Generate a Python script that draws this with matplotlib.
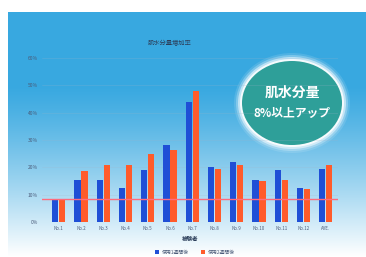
import numpy as np
import matplotlib
matplotlib.use("Agg")
import matplotlib.pyplot as plt
from matplotlib.patches import Ellipse

plt.rcParams['font.family'] = ['Noto Sans CJK JP', 'DejaVu Sans']

# data (percent increase of skin moisture)
subjects = ['No.1', 'No.2', 'No.3', 'No.4', 'No.5', 'No.6', 'No.7',
            'No.8', 'No.9', 'No.10', 'No.11', 'No.12', 'AVE.']
week1 = [8, 15.5, 15.5, 12.5, 19, 28, 44, 20, 22, 15.5, 19, 12.5, 19.5]
week2 = [8, 18.5, 21, 21, 25, 26.5, 48, 19.5, 21, 15, 15.5, 12, 21]
target = 8.3
yticks = [0, 10, 20, 30, 40, 50, 60]
series_names = ['使用1週間後', '使用2週間後']

W, H = 366, 257
fig = plt.figure(figsize=(W / 100, H / 100), dpi=100)

# background: sky blue fading to white
bg = fig.add_axes([0, 0, 1, 1])
bg.set_xlim(0, W)
bg.set_ylim(H, 0)
bg.axis('off')
top = np.array([0.22, 0.66, 0.88])
bottom = np.array([1.0, 1.0, 1.0])
t = np.linspace(0, 1, 200)
fade = np.clip((t - 0.3) / 0.7, 0, 1) ** 1.2
grad = top[None, :] * (1 - fade[:, None]) + bottom[None, :] * fade[:, None]
img = np.repeat(grad[:, None, :], 2, axis=1)
bg.imshow(img, extent=[8, W, H, 12], aspect='auto', zorder=0)

# circle badge with glow
cx, cy = 292, 103
for d, a in [(16, 0.12), (12, 0.25), (8, 0.5), (4, 0.85)]:
    bg.add_patch(Ellipse((cx, cy), 100 + d, 84 + d, color='white', alpha=a, lw=0, zorder=1))
bg.add_patch(Ellipse((cx, cy), 100, 84, color='#2e9f99', lw=0, zorder=2))
bg.text(cx, 93, '肌水分量', color='white', fontsize=10, fontweight='bold',
        ha='center', va='center', zorder=3)
bg.text(cx, 113, '8%以上アップ', color='white', fontsize=8.5, fontweight='bold',
        ha='center', va='center', zorder=3)

# bar chart
ax = fig.add_axes([42 / W, 1 - 222 / H, 296 / W, 164 / H])
ax.patch.set_alpha(0)
x = np.arange(len(subjects))
w = 0.28
ax.bar(x - w / 2 - 0.02, week1, w, color='#1f4fd6', label=series_names[0], zorder=3)
ax.bar(x + w / 2 + 0.02, week2, w, color='#ff5b2b', label=series_names[1], zorder=3)
ax.axhline(target, color='#ff6b7d', lw=1.0, zorder=4)
ax.set_xlim(-0.75, 12.55)
ax.set_ylim(0, 60)
ax.set_yticks(yticks)
ax.set_yticklabels([f'{v}%' for v in yticks], fontsize=3.5, color='#4a5a78')
ax.set_xticks(x)
ax.set_xticklabels(subjects, fontsize=3.2, color='#4a5a78')
ax.tick_params(length=0, pad=3)
ax.grid(axis='y', color='#9fb3c8', lw=0.4, alpha=0.35, zorder=0)
for s in ax.spines.values():
    s.set_visible(False)

fig.text(170 / W, 1 - 43 / H, '肌水分量増加率', fontsize=4.5, color='#2c3e5a',
         ha='center', va='center')
fig.text(190 / W, 1 - 239 / H, '被験者', fontsize=4, color='#2c3e5a',
         ha='center', va='center', fontweight='bold')
fig.legend(loc='center', bbox_to_anchor=(195 / W, 1 - 252 / H), ncol=2,
           fontsize=3.5, frameon=False, handlelength=0.8, handleheight=0.8,
           columnspacing=2.5, handletextpad=0.5, labelcolor='#4a5a78')

fig.savefig('out.png', dpi=100)
